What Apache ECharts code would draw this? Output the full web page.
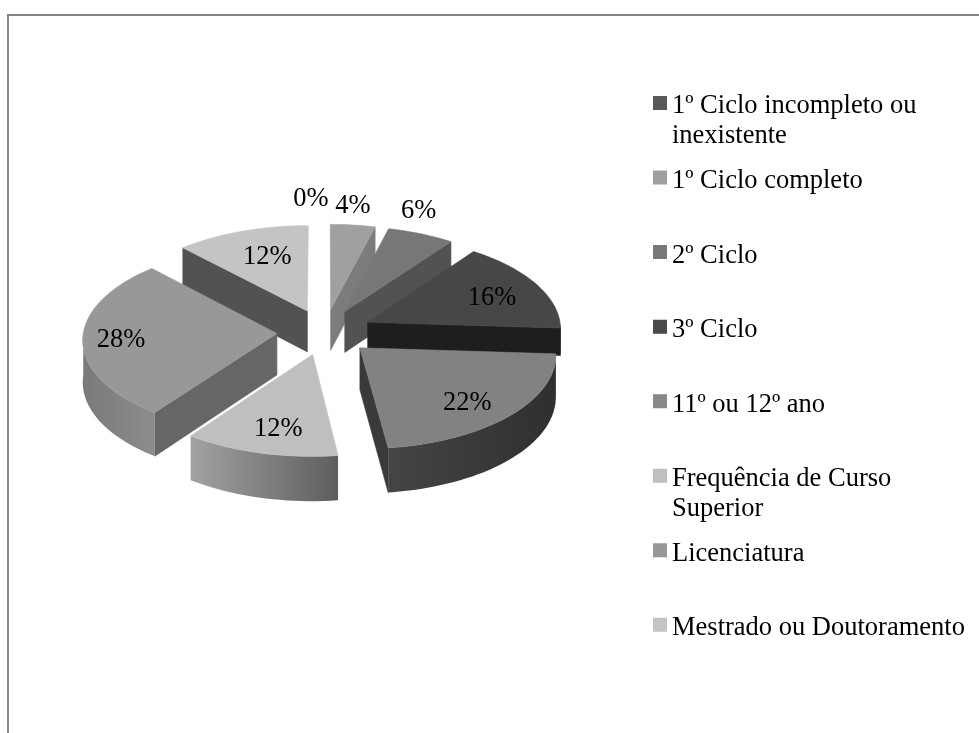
<!DOCTYPE html>
<html>
<head>
<meta charset="utf-8">
<style>html,body{margin:0;padding:0;background:#fff}#c{width:979px;height:733px}</style>
<script src="https://cdn.jsdelivr.net/npm/echarts@6/dist/echarts.min.js"></script>
</head>
<body>
<div id="c"></div>
<script>
// ---- data ----
const categories = ['1º Ciclo incompleto ou inexistente','1º Ciclo completo','2º Ciclo','3º Ciclo','11º ou 12º ano','Frequência de Curso Superior','Licenciatura','Mestrado ou Doutoramento'];
const percents = [0, 4, 6, 16, 22, 12, 28, 12];

// ---- styles ----
const topColors    = ['#595959','#a0a0a0','#777777','#474747','#828282','#bfbfbf','#989898','#c4c4c4'];
const legendColors = ['#595959','#a0a0a0','#777777','#4a4a4a','#888888','#bfbfbf','#989898','#c4c4c4'];
const startWall    = ['#404040','#7a7a7a','#555555','#333333','#3a3a3a','#8a8a8a','#666666','#525252'];
const endWall      = ['#404040','#7c7c7c','#525252','#1e1e1e','#3a3a3a','#8a8a8a','#666666','#525252'];
const rimLeft      = ['#404040','#8a8a8a','#666666','#2a2a2a','#454545','#a2a2a2','#7a7a7a','#777777'];
const rimRight     = ['#404040','#6a6a6a','#444444','#1e1e1e','#2f2f2f','#5e5e5e','#8c8c8c','#555555'];
const wallDepth    = [1, 1, 1, 0.66, 1, 1, 1, 1];
const labelReach   = [1.347, 1.263, 1.286, 0.723, 0.755, 0.745, 0.803, 0.68];
const labelTurn    = [-3.3, -1.4, -6, 1.4, 2.7, -1.6, -0.3, 2.6];

// ---- pie projection ----
const CX = 324.7, CY = 332, R = 193.5, TILT = 0.48, PERSP = 0.06, EXPLODE = 0.247, DEPTH = 41.5;
const FONT = '"Liberation Serif","Times New Roman",serif';
const FONT_SIZE = 26.5, LINE_H = 30, LABEL_DROP = 2;
// legend swatch sits a little above the text centre: the path's empty tail keeps it high in its box
const SWATCH_LIFT = 3.5;
const SWATCH_ICON = 'path://M0 0H14V14H0Z M0 21H0.01';
const total = percents.reduce((a, b) => a + b, 0);
const rad = d => d * Math.PI / 180;

function project(gx, gy, drop) {
  const w = 1 / (1 + PERSP * gy);
  return [CX + R * gx * w, CY - R * TILT * gy * w + drop * DEPTH * w];
}
function sliceRange(i) {
  let before = 0;
  for (let k = 0; k < i; k++) before += percents[k];
  const a0 = before / total * 360, a1 = (before + percents[i]) / total * 360;
  return [a0, a1];
}
function renderSlice(params, api) {
  const i = params.seriesIndex;
  const v = api.value(0);
  const [a0, a1] = sliceRange(i);
  const mid = (a0 + a1) / 2;
  const ox = EXPLODE * Math.sin(rad(mid)), oy = EXPLODE * Math.cos(rad(mid));
  const pt = (deg, r, drop) => project(ox + r * Math.sin(rad(deg)), oy + r * Math.cos(rad(deg)), drop);
  const children = [];
  const dp = wallDepth[i];
  const apexT = pt(0, 0, 0), apexB = pt(0, 0, dp);
  const poly = (points, fill) => children.push({type:'polygon', shape:{points}, style:{fill, stroke:typeof fill === 'string' ? fill : 'none', lineWidth:0.6}});
  if (v > 0) {
    const wall = (deg, fill) => poly([apexT, pt(deg,1,0), pt(deg,1,dp), apexB], fill);
    // radial walls turned to the viewer
    if (Math.sin(rad(a0)) < 0) wall(a0, startWall[i]);
    if (Math.sin(rad(a1)) > 0) wall(a1, endWall[i]);
    // rim: only the front half of the arc shows
    const r0 = Math.max(a0, 90), r1 = Math.min(a1, 270);
    if (r1 > r0) {
      const upper = [], lower = [];
      for (let d = r0; d < r1; d += 2) { upper.push(pt(d,1,0)); lower.unshift(pt(d,1,dp)); }
      upper.push(pt(r1,1,0)); lower.unshift(pt(r1,1,dp));
      poly(upper.concat(lower), {type:'linear', x:1, y:0, x2:0, y2:0, colorStops:[{offset:0,color:rimRight[i]},{offset:1,color:rimLeft[i]}]});
    }
    // top face
    const face = [apexT];
    for (let d = a0; d < a1; d += 2) face.push(pt(d,1,0));
    face.push(pt(a1,1,0));
    poly(face, topColors[i]);
  }
  const la = mid + labelTurn[i];
  const lp = pt(la, labelReach[i], 0);
  children.push({type:'text', z2:100, style:{x:lp[0], y:lp[1] + LABEL_DROP, text:Math.round(v / total * 100) + '%', fill:'#000', font:FONT_SIZE + 'px ' + FONT, align:'center', verticalAlign:'middle'}});
  return {type:'group', children};
}
function wrapName(name) {
  const out = []; let line = '';
  name.split(' ').forEach(word => {
    const next = line ? line + ' ' + word : word;
    if (next.length > 24) { out.push(line); line = word; } else line = next;
  });
  out.push(line);
  return out;
}
// painter order: far slices first
const zOrder = percents.map((p, i) => {
  const [a0, a1] = sliceRange(i);
  return -Math.cos(rad((a0 + a1) / 2));
});

const LEGEND_FIRST = 103, LEGEND_STEP = 74.55;
const legends = categories.map((name, i) => {
  const lines = wrapName(name);
  const two = lines.length > 1;
  const h = (two ? 3 : 1) * LINE_H;
  return {
    left: 653, top: LEGEND_FIRST + SWATCH_LIFT + LEGEND_STEP * i - h / 2, padding: 0,
    orient: 'vertical', icon: SWATCH_ICON, itemWidth: 14, itemHeight: 21, selectedMode: false,
    data: [{name, itemStyle:{color:legendColors[i]}}],
    formatter: () => two ? ' \n' + lines.join('\n') : lines[0],
    textStyle: {fontFamily: FONT, fontSize: FONT_SIZE, color:'#000', lineHeight: LINE_H}
  };
});

const series = categories.map((name, i) => ({
  type: 'custom', name, coordinateSystem: 'none', silent: true,
  z: 2 + Math.round((zOrder[i] + 1) * 100),
  itemStyle: {color: legendColors[i]},
  renderItem: renderSlice,
  data: [[percents[i]]], animation: false
}));

const chart = echarts.init(document.getElementById('c'), null, {renderer:'canvas'});
chart.setOption({
  backgroundColor: '#fff',
  animation: false,
  legend: legends,
  graphic: [{type:'polyline', shape:{points:[[8,733],[8,15],[979,15]]}, style:{stroke:'#868686', lineWidth:2, fill:'none'}}],
  series
});
</script>
</body>
</html>
